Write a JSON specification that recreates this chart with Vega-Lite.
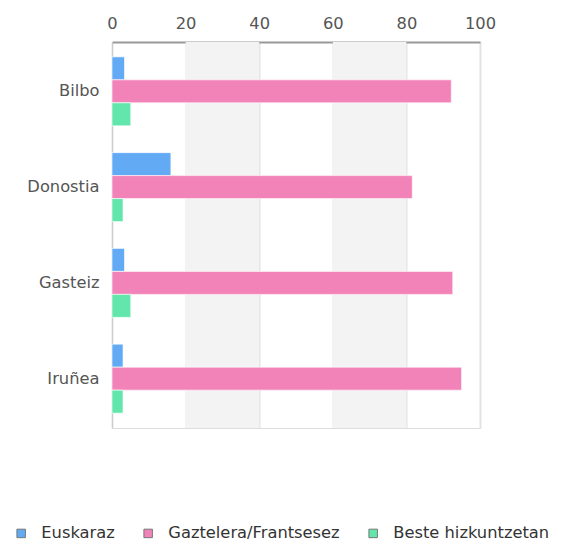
{
  "$schema": "https://vega.github.io/schema/vega-lite/v6.json",
  "width": 368,
  "height": 386,
  "autosize": {"type": "none"},
  "padding": {"left": 112, "top": 42, "right": 81, "bottom": 114},
  "background": "white",
  "config": {
    "font": "DejaVu Sans",
    "view": {"stroke": "#dddddd", "strokeWidth": 1},
    "axis": {"labelFont": "DejaVu Sans", "labelFontSize": 16.3, "labelColor": "#555555"}
  },
  "datasets": {
    "bars": [
      {"hiria": "Bilbo", "hizkuntza": "Euskaraz", "ehunekoa": 3.4},
      {"hiria": "Bilbo", "hizkuntza": "Gaztelera/Frantsesez", "ehunekoa": 92.2},
      {"hiria": "Bilbo", "hizkuntza": "Beste hizkuntzetan", "ehunekoa": 5.1},
      {"hiria": "Donostia", "hizkuntza": "Euskaraz", "ehunekoa": 16.0},
      {"hiria": "Donostia", "hizkuntza": "Gaztelera/Frantsesez", "ehunekoa": 81.6},
      {"hiria": "Donostia", "hizkuntza": "Beste hizkuntzetan", "ehunekoa": 3.0},
      {"hiria": "Gasteiz", "hizkuntza": "Euskaraz", "ehunekoa": 3.4},
      {"hiria": "Gasteiz", "hizkuntza": "Gaztelera/Frantsesez", "ehunekoa": 92.6},
      {"hiria": "Gasteiz", "hizkuntza": "Beste hizkuntzetan", "ehunekoa": 5.1},
      {"hiria": "Iruñea", "hizkuntza": "Euskaraz", "ehunekoa": 3.0},
      {"hiria": "Iruñea", "hizkuntza": "Gaztelera/Frantsesez", "ehunekoa": 95.0},
      {"hiria": "Iruñea", "hizkuntza": "Beste hizkuntzetan", "ehunekoa": 3.0}
    ],
    "bands": [
      {"from": 20, "to": 40},
      {"from": 60, "to": 80}
    ]
  },
  "layer": [
    {
      "data": {"name": "bands"},
      "mark": {"type": "rect", "color": "#f3f3f3"},
      "encoding": {
        "x": {"field": "from", "type": "quantitative", "scale": {"domain": [0, 100]}},
        "x2": {"field": "to"}
      }
    },
    {
      "data": {"name": "bars"},
      "mark": {"type": "bar", "stroke": "white", "strokeOpacity": 0.6, "strokeWidth": 1},
      "encoding": {
        "y": {
          "field": "hiria", "type": "nominal", "title": null,
          "sort": ["Bilbo", "Donostia", "Gasteiz", "Iruñea"],
          "scale": {"paddingInner": 0.28, "paddingOuter": 0.155},
          "axis": {"domainColor": "#cccccc", "ticks": false, "labelPadding": 13, "grid": false}
        },
        "yOffset": {
          "field": "hizkuntza", "type": "nominal",
          "sort": ["Euskaraz", "Gaztelera/Frantsesez", "Beste hizkuntzetan"],
          "scale": {"paddingInner": 0, "paddingOuter": 0}
        },
        "x": {
          "field": "ehunekoa", "type": "quantitative", "title": null,
          "scale": {"domain": [0, 100], "nice": false},
          "axis": {
            "orient": "top", "values": [0, 20, 40, 60, 80, 100],
            "ticks": false, "labelPadding": 11, "domainColor": "#999999", "domainWidth": 2,
            "grid": true, "gridColor": "#e3e3e3", "gridWidth": 2,
            "labelFlush": false
          }
        },
        "color": {
          "field": "hizkuntza", "type": "nominal",
          "sort": ["Euskaraz", "Gaztelera/Frantsesez", "Beste hizkuntzetan"],
          "scale": {
            "domain": ["Euskaraz", "Gaztelera/Frantsesez", "Beste hizkuntzetan"],
            "range": ["#63aaf5", "#f283b8", "#63e6ab"]
          },
          "legend": {
            "title": null, "orient": "none", "direction": "horizontal",
            "legendX": -99, "legendY": 483,
            "symbolType": "square", "symbolSize": 72, "symbolStrokeWidth": 1,
            "symbolStrokeColor": "#777777", "symbolOpacity": 1,
            "labelFont": "DejaVu Sans", "labelFontSize": 16.3, "labelColor": "#333333",
            "labelLimit": 400, "labelOffset": 12, "columnPadding": 25
          }
        }
      }
    }
  ]
}
